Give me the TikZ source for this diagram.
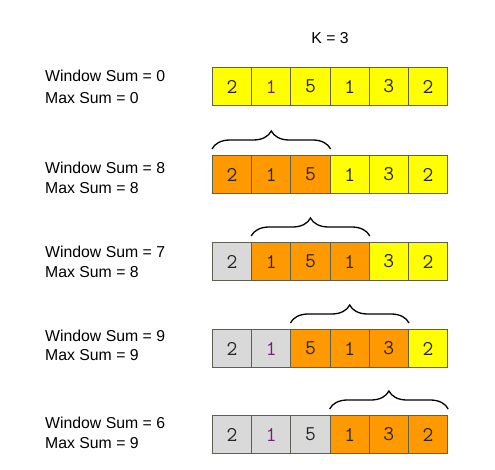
\documentclass[tikz,border=0pt]{standalone}
\usepackage{fontspec}
\setmainfont{Liberation Sans}
\usetikzlibrary{decorations.pathreplacing}
\definecolor{cY}{HTML}{FFFF00}
\definecolor{cO}{HTML}{FF9900}
\definecolor{cG}{HTML}{D9D9D9}
\definecolor{cellborder}{HTML}{5F5F50}
\definecolor{numpurple}{HTML}{7A1A7A}
\definecolor{numdark}{HTML}{262626}
\tikzset{
  cell/.style={draw=cellborder, line width=1pt, minimum width=39.2pt, minimum height=38pt,
    inner sep=0pt, anchor=north west, font=\ttfamily\fontsize{21}{21}\selectfont},
  lbl/.style={anchor=west, inner sep=0pt, font=\fontsize{15.8}{15.8}\selectfont},
  brc/.style={decorate, decoration={brace, amplitude=18pt}, line width=1.3pt},
}
\begin{document}
\begin{tikzpicture}[x=1pt,y=-1pt]
\useasboundingbox (0,0) rectangle (495,470);
\node[font=\fontsize{15.8}{15.8}\selectfont] (k) at (330,38) {K = 3};
\foreach \r/\top/\fills/\ws/\ms/\wy/\my/\pc in {
  1/67/{cY,cY,cY,cY,cY,cY}/0/0/76/98/2,
  2/155/{cO,cO,cO,cY,cY,cY}/8/8/168/188/0,
  3/242/{cG,cO,cO,cO,cY,cY}/7/8/252/272/0,
  4/329/{cG,cG,cO,cO,cO,cY}/9/9/336/355/2,
  5/415/{cG,cG,cG,cO,cO,cO}/6/9/423/443/2}{
  \foreach \v [count=\c] in {2,1,5,1,3,2}{
    \pgfmathsetmacro{\xx}{212+(\c-1)*39.2}
    \ifnum\c=\pc\relax \def\tc{numpurple}\else \def\tc{numdark}\fi
    \foreach \f [count=\i] in \fills {
      \ifnum\i=\c\relax
        \node[cell, fill=\f, text=\tc] (r\r c\c) at (\xx,\top) {\v};
      \fi
    }
  }
  \node[lbl] (w\r) at (45,\wy) {Window Sum = \ws};
  \node[lbl] (m\r) at (45,\my) {Max Sum = \ms};
}
\draw[brc] ([yshift=6pt]r2c1.north west) -- ([yshift=6pt]r2c3.north east);
\draw[brc] ([yshift=6pt]r3c2.north west) -- ([yshift=6pt]r3c4.north east);
\draw[brc] ([yshift=6pt]r4c3.north west) -- ([yshift=6pt]r4c5.north east);
\draw[brc] ([yshift=6pt]r5c4.north west) -- ([yshift=6pt]r5c6.north east);
\end{tikzpicture}
\end{document}
